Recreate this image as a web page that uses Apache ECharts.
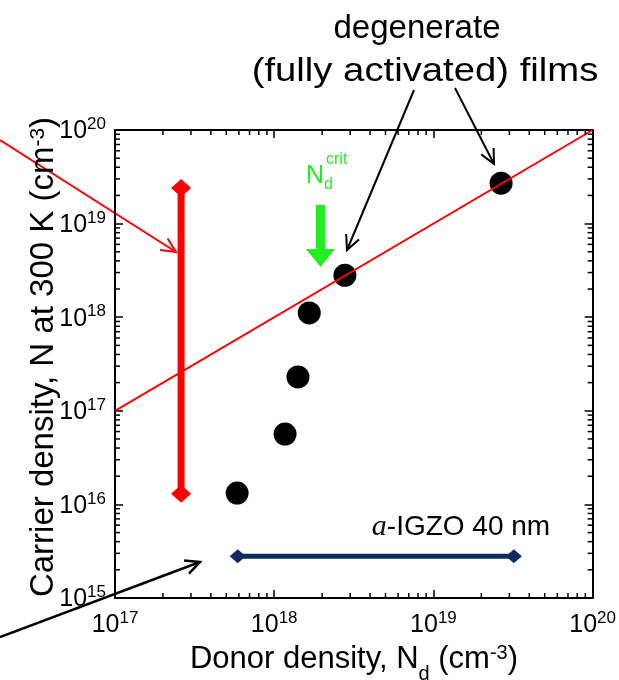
<!DOCTYPE html>
<html>
<head>
<meta charset="utf-8">
<script src="https://cdn.jsdelivr.net/npm/echarts@6/dist/echarts.min.js"></script>
<style>html,body{margin:0;padding:0;background:#fff}#c{width:619px;height:680px}</style>
</head>
<body>
<div id="c"></div>
<script>
// ---- data ----
const xRange = [1e17, 1e20];
const yRange = [1e15, 1e20];
const filmsNd = [5.85e17, 1.17e18, 1.41e18, 1.66e18, 2.78e18, 2.66e19];
const filmsN  = [1.32e16, 5.65e16, 2.3e17, 1.11e18, 2.8e18, 2.7e19];
const idealNd = [1e17, 1e20];
const idealN  = [1e17, 1e20];
const redBarNd = [2.6e17, 2.6e17];
const redBarN  = [1.3e16, 2.4e19];
const blueBarNd = [5.9e17, 3.2e19];
const blueBarN  = [2.8e15, 2.8e15];
const xMinorDecades = [1e17, 1e18, 1e19];
const yMinorDecades = [1e15, 1e16, 1e17, 1e18, 1e19];
const minorMult = [2, 3, 4, 5, 6, 7, 8, 9];

const zip = (a, b) => a.map((v, i) => [v, b[i]]);
const FONT = '"Liberation Sans", Arial, sans-serif';
const GREEN = '#22ee22';

function expLabel(v) {
  const e = Math.round(Math.log10(v));
  return '{b|10}{s|' + e + '}';
}
const labelRich = {
  b: { fontSize: 25, fontFamily: FONT, color: '#000', lineHeight: 28, verticalAlign: 'bottom' },
  s: { fontSize: 17, fontFamily: FONT, color: '#000', lineHeight: 28, verticalAlign: 'top' }
};

function arrow(x1, y1, x2, y2, color, w, head) {
  const ang = Math.atan2(y2 - y1, x2 - x1);
  const a = Math.PI / 7;
  const p1 = [x2 - head * Math.cos(ang - a), y2 - head * Math.sin(ang - a)];
  const p2 = [x2 - head * Math.cos(ang + a), y2 - head * Math.sin(ang + a)];
  return {
    type: 'group', z: 20,
    children: [
      { type: 'line', shape: { x1, y1, x2, y2 }, style: { stroke: color, lineWidth: w } },
      { type: 'polyline', shape: { points: [p1, [x2, y2], p2] }, style: { stroke: color, lineWidth: w, fill: null } }
    ]
  };
}

const chart = echarts.init(document.getElementById('c'));

const axisCommon = {
  type: 'log', logBase: 10,
  axisLine: { show: true, onZero: false, lineStyle: { color: '#000', width: 2 } },
  axisTick: { show: true, inside: true, length: 8, lineStyle: { color: '#000', width: 1.5 } },
  splitLine: { show: false },
  minorTick: { show: false }
};

const option = {
  animation: false,
  backgroundColor: '#fff',
  grid: { left: 115, right: 24, top: 130, bottom: 82, containLabel: false },
  xAxis: [
    Object.assign({}, axisCommon, {
      min: xRange[0], max: xRange[1], position: 'bottom',
      axisLabel: { show: true, margin: 12, formatter: expLabel, rich: labelRich }
    }),
    Object.assign({}, axisCommon, {
      min: xRange[0], max: xRange[1], position: 'top',
      axisLabel: { show: false }
    })
  ],
  yAxis: [
    Object.assign({}, axisCommon, {
      min: yRange[0], max: yRange[1], position: 'left',
      axisLabel: { show: true, margin: 9, formatter: expLabel, rich: labelRich }
    }),
    Object.assign({}, axisCommon, {
      min: yRange[0], max: yRange[1], position: 'right',
      axisLabel: { show: false }
    })
  ],
  series: [
    {
      type: 'custom', name: 'minorTicks', z: 5, silent: true,
      data: [[1e18, 1e17]],
      renderItem: function (params, api) {
        const children = [];
        xMinorDecades.forEach(d => minorMult.forEach(m => {
          const b = api.coord([d * m, yRange[0]]);
          const t = api.coord([d * m, yRange[1]]);
          children.push({ type: 'line', shape: { x1: b[0], y1: b[1], x2: b[0], y2: b[1] - 5 }, style: { stroke: '#000', lineWidth: 1.5 } });
          children.push({ type: 'line', shape: { x1: t[0], y1: t[1], x2: t[0], y2: t[1] + 5 }, style: { stroke: '#000', lineWidth: 1.5 } });
        }));
        yMinorDecades.forEach(d => minorMult.forEach(m => {
          const l = api.coord([xRange[0], d * m]);
          const r = api.coord([xRange[1], d * m]);
          children.push({ type: 'line', shape: { x1: l[0], y1: l[1], x2: l[0] + 5, y2: l[1] }, style: { stroke: '#000', lineWidth: 1.5 } });
          children.push({ type: 'line', shape: { x1: r[0], y1: r[1], x2: r[0] - 5, y2: r[1] }, style: { stroke: '#000', lineWidth: 1.5 } });
        }));
        return { type: 'group', children };
      }
    },
    {
      type: 'scatter', name: 'films', z: 2,
      data: zip(filmsNd, filmsN),
      symbol: 'circle', symbolSize: 23,
      itemStyle: { color: '#000', opacity: 1 }
    },
    {
      type: 'line', name: 'N=Nd', z: 3,
      data: zip(idealNd, idealN),
      showSymbol: false, symbol: 'none',
      lineStyle: { color: '#ff0000', width: 2 }
    },
    {
      type: 'line', name: 'redBar', z: 4,
      data: zip(redBarNd, redBarN),
      symbol: 'diamond', symbolSize: [20, 18], showSymbol: true,
      itemStyle: { color: '#ff0000' },
      lineStyle: { color: '#ff0000', width: 7 }
    },
    {
      type: 'line', name: 'blueBar', z: 4,
      data: zip(blueBarNd, blueBarN),
      symbol: 'diamond', symbolSize: [16, 14], showSymbol: true,
      itemStyle: { color: '#0f2a5e' },
      lineStyle: { color: '#0f2a5e', width: 5 }
    }
  ],
  graphic: [
    // axis titles
    {
      type: 'text', x: 354, y: 659, z: 10,
      style: {
        text: 'Donor density, N{sub|d} (cm{sup|-3})',
        font: '31px ' + FONT, fill: '#000', align: 'center', verticalAlign: 'middle',
        rich: {
          sub: { fontSize: 20, fontFamily: FONT, verticalAlign: 'bottom', lineHeight: 32, padding: [0, 0, -9, 0] },
          sup: { fontSize: 20, fontFamily: FONT, verticalAlign: 'top', lineHeight: 32 }
        }
      }
    },
    {
      type: 'text', x: 44, y: 357, rotation: Math.PI / 2, z: 10,
      style: {
        text: 'Carrier density, N at 300 K (cm{sup|-3})',
        font: '33px ' + FONT, fill: '#000', align: 'center', verticalAlign: 'middle',
        rich: {
          sup: { fontSize: 21, fontFamily: FONT, verticalAlign: 'top', lineHeight: 33 }
        }
      }
    },
    // annotation texts
    {
      type: 'text', x: 417, y: 29, z: 10,
      style: { text: 'degenerate', font: '33px ' + FONT, fill: '#000', align: 'center', verticalAlign: 'middle' }
    },
    {
      type: 'text', x: 425, y: 72, z: 10, scaleX: 1.16, originX: 0, originY: 0,
      style: { text: '(fully activated) films', font: '33px ' + FONT, fill: '#000', align: 'center', verticalAlign: 'middle' }
    },
    {
      type: 'text', x: 461, y: 527, z: 10,
      style: {
        text: '{it|a}-IGZO 40 nm',
        font: '28px ' + FONT, fill: '#000', align: 'center', verticalAlign: 'middle',
        rich: { it: { fontSize: 30, fontFamily: '"Liberation Serif", "DejaVu Serif", serif', fontStyle: 'italic', fill: '#000' } }
      }
    },
    {
      type: 'text', x: 306, y: 176, z: 10,
      style: {
        text: 'N{sub|d}',
        font: '25px ' + FONT, fill: GREEN, align: 'left', verticalAlign: 'middle',
        rich: { sub: { fontSize: 16, fontFamily: FONT, fill: GREEN, padding: [18, 0, 0, 0] } }
      }
    },
    {
      type: 'text', x: 326, y: 160, z: 10,
      style: { text: 'crit', font: '16px ' + FONT, fill: GREEN, align: 'left', verticalAlign: 'middle' }
    },
    // green arrow
    {
      type: 'polygon', z: 10,
      shape: { points: [[316, 205], [325, 205], [325, 249], [335, 249], [320.5, 267], [306, 249], [316, 249]] },
      style: { fill: GREEN }
    },
    // annotation arrows
    arrow(414, 90, 347, 250, '#000', 2, 16),
    arrow(455, 88, 494, 164, '#000', 2, 16),
    arrow(0, 140, 176, 252, '#ff0000', 2, 16),
    arrow(0, 637, 200, 562, '#000', 2.5, 16)
  ]
};
chart.setOption(option);
</script>
</body>
</html>
